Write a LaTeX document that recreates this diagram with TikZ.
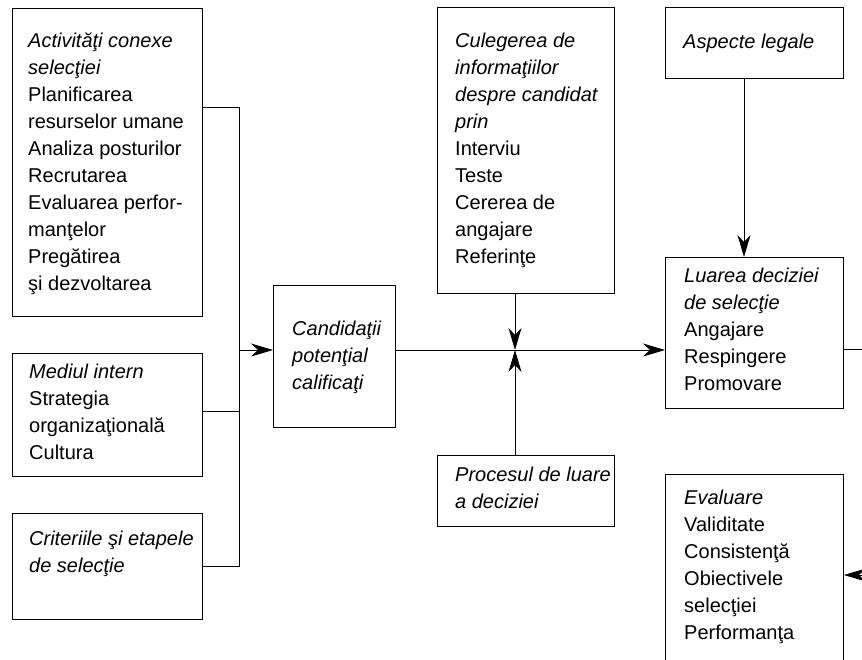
\documentclass[tikz,border=0pt]{standalone}
\usepackage{fontspec}
\setmainfont{Liberation Sans}
\usetikzlibrary{arrows.meta}
\begin{document}
\begin{tikzpicture}[x=1pt,y=-1pt,
  box/.style={draw, line width=0.9pt, inner sep=0, anchor=north west},
  txt/.style={inner sep=0, anchor=north west, align=left, font=\fontsize{20}{27}\selectfont},
  arr/.style={-{Stealth[length=22pt,width=13pt,inset=7pt]}, line width=0.9pt},
  ln/.style={line width=0.9pt}]
\clip (0,0) rectangle (862,659);
\fill[white] (0,0) rectangle (862,659);
% boxes
\node[box, minimum width=190pt, minimum height=308pt] (act) at (12,8) {};
\node[box, minimum width=190pt, minimum height=123pt] (med) at (12,353) {};
\node[box, minimum width=190pt, minimum height=106pt] (crit) at (12,513) {};
\node[box, minimum width=122pt, minimum height=142pt] (cand) at (273,285) {};
\node[box, minimum width=177pt, minimum height=286pt] (cul) at (437,7) {};
\node[box, minimum width=177pt, minimum height=71pt] (proc) at (437,455) {};
\node[box, minimum width=178pt, minimum height=71pt] (asp) at (665,7) {};
\node[box, minimum width=178pt, minimum height=151pt] (lua) at (665,257) {};
\node[box, minimum width=178pt, minimum height=260pt] (eva) at (665,474) {};
% texts
\node[txt] (actT) at ([shift={(16,20)}]act.north west)
  {\strut\textit{Activităţi conexe}\\ \textit{selecţiei}\\ Planificarea\\ resurselor umane\\ Analiza posturilor\\ Recrutarea\\ Evaluarea perfor-\\ manţelor\\ Pregătirea\\ şi dezvoltarea};
\node[txt] (medT) at ([shift={(17,6)}]med.north west)
  {\strut\textit{Mediul intern}\\ Strategia\\ organizaţională\\ Cultura};
\node[txt] (critT) at ([shift={(17,13)}]crit.north west)
  {\strut\textit{Criteriile şi etapele}\\ \textit{de selecţie}};
\node[txt] (candT) at ([shift={(19,31)}]cand.north west)
  {\strut\textit{Candidaţii}\\ \textit{potenţial}\\ \textit{calificaţi}};
\node[txt] (culT) at ([shift={(18,21)}]cul.north west)
  {\strut\textit{Culegerea de}\\ \textit{informaţiilor}\\ \textit{despre candidat}\\ \textit{prin}\\ Interviu\\ Teste\\ Cererea de\\ angajare\\ Referinţe};
\node[txt] (procT) at ([shift={(18,7)}]proc.north west)
  {\strut\textit{Procesul de luare}\\ \textit{a deciziei}};
\node[txt] (aspT) at ([shift={(18,22)}]asp.north west)
  {\strut\textit{Aspecte legale}};
\node[txt] (luaT) at ([shift={(19,6)}]lua.north west)
  {\strut\textit{Luarea deciziei}\\ \textit{de selecţie}\\ Angajare\\ Respingere\\ Promovare};
\node[txt] (evaT) at ([shift={(19,11)}]eva.north west)
  {\strut\textit{Evaluare}\\ Validitate\\ Consistenţă\\ Obiectivele\\ selecţiei\\ Performanţa};
% connectors
\coordinate (b1) at (239,107);
\coordinate (b2) at (239,411);
\coordinate (b3) at (239,566);
\coordinate (bm) at (239,350);
\draw[ln] (act.east |- b1) -- (b1) -- (b3) -- (crit.east |- b3);
\draw[ln] (med.east |- b2) -- (b2);
\draw[arr] (bm) -- (cand.west |- bm);
\coordinate (jx) at (515,350);
\draw[arr] (cand.east |- jx) -- (lua.west |- jx);
\draw[arr] (cul.south -| jx) -- (jx);
\draw[arr] (proc.north -| jx) -- (jx);
\coordinate (ax) at (744,100);
\draw[arr] (asp.south -| ax) -- (lua.north -| ax);
\coordinate (r1) at (875,349);
\draw[ln] (lua.east |- r1) -- (r1);
\coordinate (r2) at (875,575);
\draw[arr] (r2) -- (eva.east |- r2);
\end{tikzpicture}
\end{document}
